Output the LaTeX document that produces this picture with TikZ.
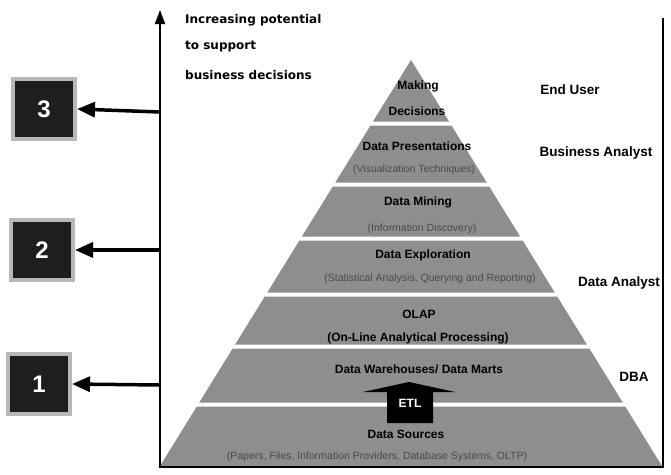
\documentclass[tikz,border=0pt]{standalone}
\usepackage{fontspec}
\setmainfont{Liberation Sans}
\newfontfamily\dvfont{DejaVu Sans}
\usetikzlibrary{arrows.meta}
\definecolor{layer}{HTML}{8E8E8E}
\definecolor{boxrim}{HTML}{B8B8B8}
\definecolor{boxcore}{HTML}{1E1E1E}
\definecolor{subtext}{HTML}{4A4A4A}
\tikzset{
  main/.style={font=\fontsize{12}{14}\selectfont\bfseries, inner sep=0pt},
  sub/.style={font=\fontsize{10.5}{12}\selectfont, text=subtext, inner sep=0pt},
  role/.style={font=\fontsize{13.5}{15}\selectfont\bfseries, inner sep=0pt},
  lefttext/.style={anchor=west, font=\dvfont\fontsize{12}{14}\selectfont\bfseries, inner sep=0pt},
  numbox/.style={draw=boxrim, line width=4pt, fill=boxcore, minimum width=62pt, minimum height=60pt, inner sep=0pt, text=white, font=\fontsize{24}{26}\selectfont\bfseries},
  outarrow/.style={line width=3.5pt, -{Triangle[length=18pt,width=15pt]}},
}
\begin{document}
\begin{tikzpicture}[x=1pt,y=-1pt]
\useasboundingbox (0,0) rectangle (671,474);
% pyramid layers: apex (411,60), base y=466 half width 251
\def\slope{0.6182}
\foreach \ya/\yb in {60/121.5, 125.5/182.5, 186.5/236.5, 240.5/292.5, 296.5/344.5, 348.5/402.5, 406.5/466}{
  \pgfmathsetmacro{\ha}{\slope*(\ya-60)}
  \pgfmathsetmacro{\hb}{\slope*(\yb-60)}
  \fill[layer] (411-\ha,\ya) -- (411+\ha,\ya) -- (411+\hb,\yb) -- (411-\hb,\yb) -- cycle;
}
% ETL block arrow
\fill[black] (409,382) -- (455,392) -- (433,392) -- (433,423) -- (387,423) -- (387,392) -- (363,392) -- cycle;
\node[font=\fontsize{12}{14}\selectfont\bfseries, text=white, inner sep=0pt] (etl) at (410,403) {ETL};
% frame
\draw[line width=2pt, -{Triangle[length=14pt,width=10pt]}] (160,467) -- (160,10);
\draw[line width=2pt] (159,467) -- (663,467) -- (663,18);
% coordinates on axis
\coordinate (c3) at (160,112);
\coordinate (c2) at (160,250);
\coordinate (c1) at (160,385);
% number boxes
\node[numbox] (b3) at (44,109) {3};
\node[numbox] (b2) at (42,250) {2};
\node[numbox] (b1) at (39,384) {1};
\draw[outarrow] (c3) -- (b3.east);
\draw[outarrow] (c2) -- (b2.east);
\draw[outarrow] (c1) -- (b1.east);
% left text
\node[lefttext] (t1) at (185,20) {Increasing potential};
\node[lefttext] (t2) at (185,47) {to support};
\node[lefttext] (t3) at (185,75) {business decisions};
% pyramid texts
\node[main] (l1a) at (418,86) {Making};
\node[main] (l1b) at (417,111) {Decisions};
\node[main] (l2a) at (417,146) {Data Presentations};
\node[sub] (l2b) at (414,170) {(Visualization Techniques)};
\node[main] (l3a) at (418,202) {Data Mining};
\node[sub] (l3b) at (422,229) {(Information Discovery)};
\node[main] (l4a) at (423,255) {Data Exploration};
\node[sub] (l4b) at (430,279) {(Statistical Analysis, Querying and Reporting)};
\node[main] (l5a) at (419,314) {OLAP};
\node[main] (l5b) at (418,338) {(On-Line Analytical Processing)};
\node[main] (l6a) at (419,369) {Data Warehouses/ Data Marts};
\node[main] (l7a) at (406,434) {Data Sources};
\node[sub] (l7b) at (377,457) {(Papers, Files, Information Providers, Database Systems, OLTP)};
% roles
\node[role] (r1) at (570,90) {End User};
\node[role] (r2) at (596,153) {Business Analyst};
\node[role] (r3) at (619,283) {Data Analyst};
\node[role] (r4) at (634,377) {DBA};
\end{tikzpicture}
\end{document}
